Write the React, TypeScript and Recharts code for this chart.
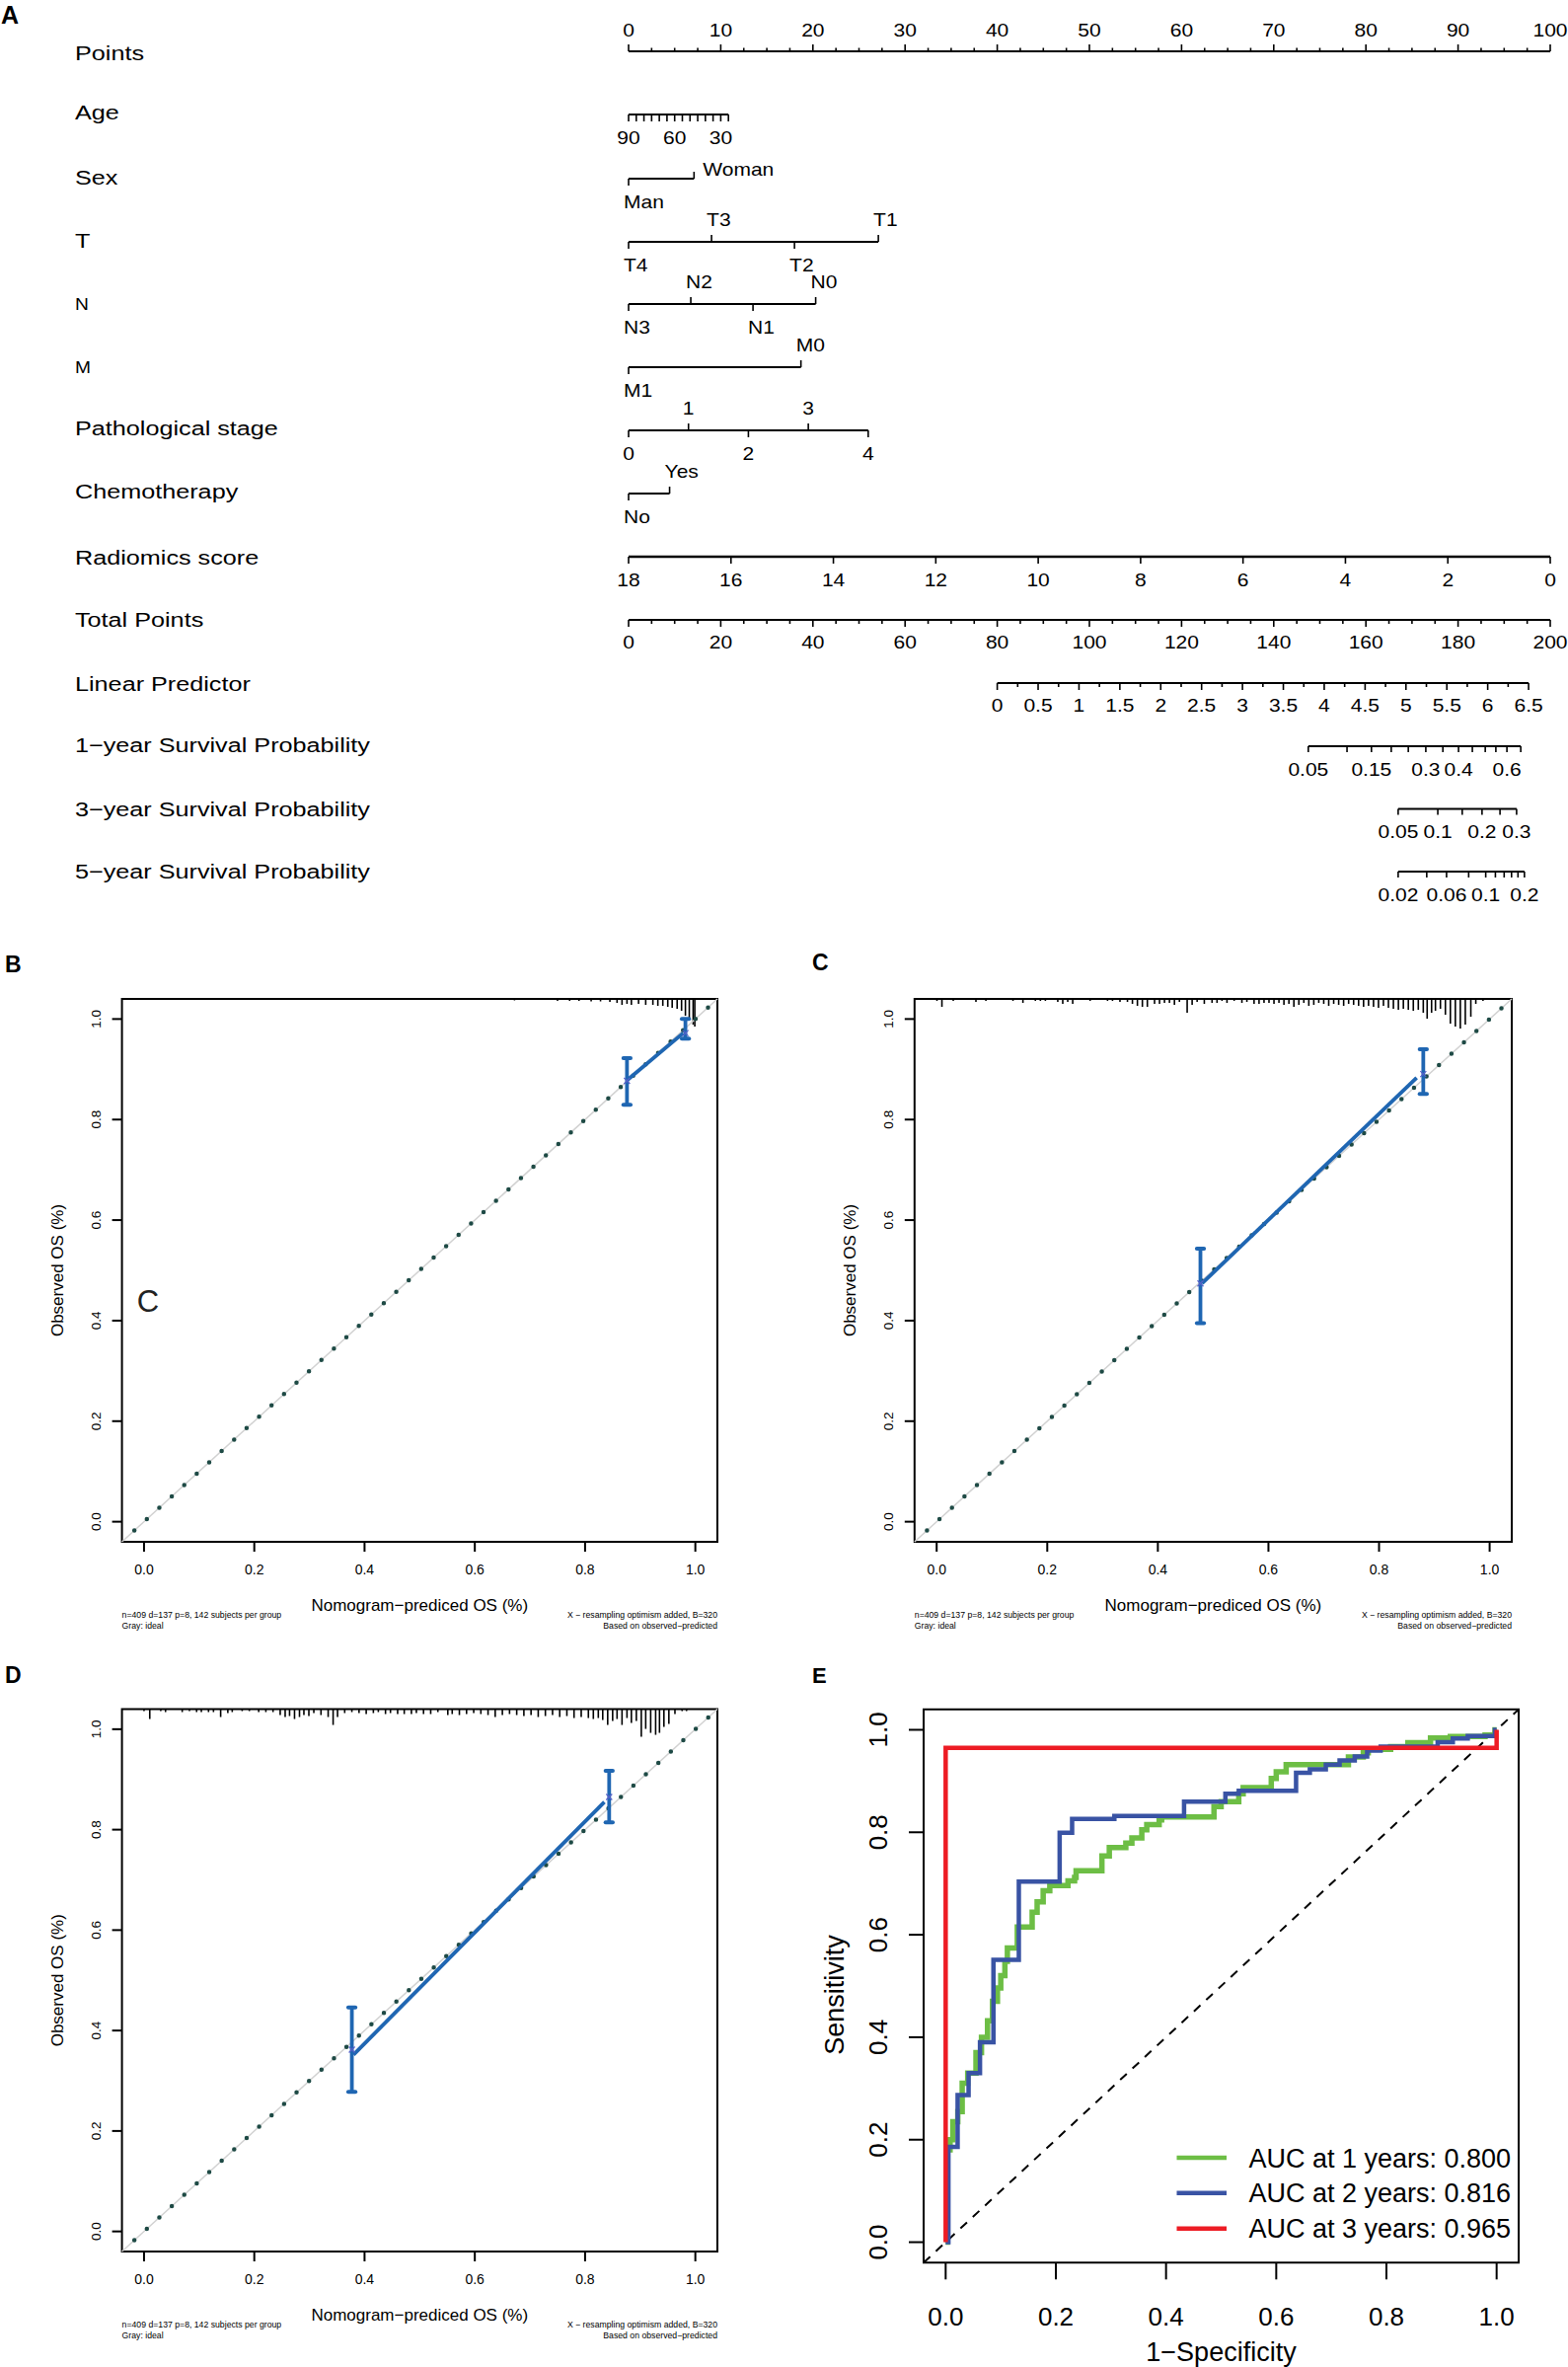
import React from "react";
import {
  ComposedChart,
  Line,
  Scatter,
  XAxis,
  YAxis,
  ReferenceLine,
  ReferenceArea,
} from "recharts";

const FONT = "'Liberation Sans', Arial, Helvetica, sans-serif";
const MINUS = "\u2212";

// ---------------- Panel A: nomogram data ----------------
const ROW_NAMES = [
  "Points",
  "Age",
  "Sex",
  "T",
  "N",
  "M",
  "Pathological stage",
  "Chemotherapy",
  "Radiomics score",
  "Total Points",
  "Linear Predictor",
  `1${MINUS}year Survival Probability`,
  `3${MINUS}year Survival Probability`,
  `5${MINUS}year Survival Probability`,
];

const AGE_TICKS = [90, 85, 80, 75, 70, 65, 60, 55, 50, 45, 40, 35, 30, 25];
const AGE_LABELS = [90, 60, 30];
const AGE_POINTS_AT_30 = 10; // age 90 -> 0 points, age 30 -> 10 points

const SEX_LEVELS = ["Man", "Woman"];
const SEX_POINTS = [0, 7.1];
const T_LEVELS = ["T4", "T3", "T2", "T1"];
const T_POINTS = [0, 9, 18, 27.1];
const N_LEVELS = ["N3", "N2", "N1", "N0"];
const N_POINTS = [0, 6.75, 13.5, 20.3];
const M_LEVELS = ["M1", "M0"];
const M_POINTS = [0, 18.7];
const STAGE_LEVELS = [0, 1, 2, 3, 4];
const STAGE_POINTS = [0, 6.5, 13, 19.5, 26];
const CHEMO_LEVELS = ["No", "Yes"];
const CHEMO_POINTS = [0, 4.45];
const RADIOMICS_TICKS = [18, 16, 14, 12, 10, 8, 6, 4, 2, 0];

const LP_TOTAL_AT_0 = 80;
const LP_TOTAL_AT_MAX = 195.3;
const LP_MAX = 6.5;

const SURV1_VALUES = [0.05, 0.1, 0.15, 0.2, 0.25, 0.3, 0.35, 0.4, 0.45, 0.5, 0.55, 0.6, 0.65];
const SURV1_TOTAL = [147.5, 155.9, 161.2, 165.5, 169.2, 173.0, 176.7, 180.1, 183.1, 185.9, 188.2, 190.6, 193.6];
const SURV1_SHOWN = [0.05, 0.15, 0.3, 0.4, 0.6];
const SURV3_VALUES = [0.05, 0.1, 0.15, 0.2, 0.25, 0.3];
const SURV3_TOTAL = [167.0, 175.6, 180.9, 185.2, 189.1, 192.7];
const SURV3_SHOWN = [0.05, 0.1, 0.2, 0.3];
const SURV5_VALUES = [0.02, 0.04, 0.06, 0.08, 0.1, 0.12, 0.14, 0.16, 0.18, 0.2];
const SURV5_TOTAL = [167.0, 173.2, 177.5, 182.3, 186.0, 188.1, 190.0, 191.6, 193.0, 194.4];
const SURV5_SHOWN = [0.02, 0.06, 0.1, 0.2];

// ---------------- Panels B-D: calibration data ----------------
const B_BAR_X = [0.876, 0.982];
const B_BAR_Y = [0.877, 0.972];
const B_BAR_LO = [0.8295, 0.961];
const B_BAR_HI = [0.922, 1.0];
const B_CURVE_X = [0.877, 0.978];
const B_CURVE_Y = [0.879, 0.972];
const B_RUG_X = [0.0, 0.173, 0.312, 0.442, 0.503, 0.59, 0.672, 0.75, 0.772, 0.789, 0.811, 0.828, 0.845, 0.858, 0.867, 0.876, 0.884, 0.897, 0.91, 0.923, 0.932, 0.941, 0.95, 0.958, 0.967, 0.975, 0.982, 0.989, 0.996, 0.999];
const B_RUG_H = [1, 1, 1, 1, 1, 1, 1.5, 2, 2, 2, 2.5, 2.5, 3, 4, 6, 5, 6, 5, 6, 6, 7, 7, 8, 9, 10, 12, 17, 20, 26, 28];

const C_BAR_X = [0.477, 0.88];
const C_BAR_Y = [0.474, 0.8905];
const C_BAR_LO = [0.395, 0.851];
const C_BAR_HI = [0.543, 0.94];
const C_CURVE_X = [0.48, 0.868];
const C_CURVE_Y = [0.474, 0.883];
const C_RUG_X = [0.0005, 0.0095, 0.03, 0.071, 0.089, 0.138, 0.156, 0.1785, 0.1876, 0.1966, 0.219, 0.228, 0.237, 0.246, 0.2775, 0.309, 0.318, 0.3315, 0.345, 0.354, 0.363, 0.372, 0.381, 0.394, 0.403, 0.412, 0.421, 0.43, 0.439, 0.453, 0.462, 0.471, 0.484, 0.498, 0.507, 0.516, 0.525, 0.538, 0.552, 0.561, 0.574, 0.583, 0.592, 0.601, 0.61, 0.619, 0.628, 0.637, 0.646, 0.655, 0.664, 0.673, 0.682, 0.691, 0.7, 0.709, 0.718, 0.727, 0.736, 0.745, 0.754, 0.763, 0.772, 0.781, 0.79, 0.799, 0.808, 0.817, 0.826, 0.835, 0.844, 0.853, 0.862, 0.871, 0.88, 0.887, 0.895, 0.902, 0.911, 0.92, 0.929, 0.938, 0.947, 0.956, 0.966, 0.975, 0.988];
const C_RUG_H = [2, 8, 2, 3, 2, 2, 4, 2, 2, 2, 3, 5, 3, 5, 2, 2, 2, 3, 3, 5, 7, 8, 8, 5, 5, 4, 4, 6, 3, 14, 6, 3, 5, 4, 4, 2, 4, 2, 4, 3, 5, 5, 4, 4, 5, 4, 6, 5, 8, 6, 4, 7, 6, 4, 5, 7, 5, 6, 7, 5, 6, 7, 8, 7, 8, 9, 7, 9, 10, 11, 10, 11, 12, 11, 14, 20, 14, 12, 10, 16, 25, 28, 30, 26, 18, 5, 2];

const D_BAR_X = [0.377, 0.8437];
const D_BAR_Y = [0.362, 0.865];
const D_BAR_LO = [0.278, 0.8146];
const D_BAR_HI = [0.446, 0.917];
const D_CURVE_X = [0.38, 0.835];
const D_CURVE_Y = [0.352, 0.855];
const D_RUG_X = [0.0, 0.0104, 0.0303, 0.039, 0.0693, 0.0824, 0.0954, 0.104, 0.117, 0.126, 0.139, 0.152, 0.16, 0.178, 0.191, 0.208, 0.221, 0.234, 0.247, 0.256, 0.264, 0.273, 0.282, 0.29, 0.299, 0.308, 0.321, 0.334, 0.343, 0.351, 0.364, 0.377, 0.39, 0.403, 0.416, 0.425, 0.438, 0.447, 0.46, 0.472, 0.485, 0.494, 0.507, 0.52, 0.533, 0.551, 0.559, 0.572, 0.585, 0.598, 0.611, 0.624, 0.637, 0.65, 0.663, 0.676, 0.689, 0.702, 0.715, 0.728, 0.741, 0.754, 0.767, 0.78, 0.793, 0.806, 0.815, 0.824, 0.832, 0.841, 0.85, 0.858, 0.867, 0.876, 0.884, 0.893, 0.902, 0.91, 0.919, 0.928, 0.935, 0.943, 0.952, 0.963, 0.976, 0.984];
const D_RUG_H = [2, 10, 2, 3, 3, 2, 3, 3, 3, 3, 8, 4, 3, 2, 2, 3, 3, 3, 6, 8, 7, 10, 8, 6, 7, 4, 6, 8, 16, 8, 4, 3, 4, 5, 4, 3, 5, 4, 5, 5, 5, 4, 5, 5, 3, 6, 5, 6, 5, 4, 5, 6, 8, 6, 5, 6, 7, 6, 8, 7, 6, 8, 7, 9, 8, 9, 10, 9, 11, 16, 12, 10, 16, 9, 14, 12, 28, 20, 24, 26, 24, 18, 15, 5, 2, 2];

const CAL_FOOT_LEFT = ["n=409 d=137 p=8, 142 subjects per group", "Gray: ideal"];
const CAL_FOOT_RIGHT = [`X ${MINUS} resampling optimism added, B=320`, `Based on observed${MINUS}predicted`];

// ---------------- Panel E: ROC data ----------------
const ROC_NAMES = ["AUC at 1 years: 0.800", "AUC at 2 years: 0.816", "AUC at 3 years: 0.965"];
const ROC_COLORS = ["#6dbe45", "#3953a4", "#ed1c24"];
const ROC1_FPR = [0, 0.003, 0.008, 0.013, 0.022, 0.03, 0.04, 0.055, 0.065, 0.076, 0.085, 0.094, 0.1, 0.1075, 0.112, 0.13, 0.157, 0.166, 0.177, 0.189, 0.222, 0.234, 0.2367, 0.2836, 0.297, 0.327, 0.338, 0.356, 0.365, 0.3875, 0.392, 0.487, 0.5, 0.532, 0.54, 0.591, 0.6, 0.618, 0.731, 0.758, 0.767, 0.8076, 0.839, 0.88, 0.916, 0.979, 0.997, 1.0];
const ROC1_TPR = [0, 0.18, 0.2, 0.235, 0.255, 0.31, 0.33, 0.37, 0.4, 0.432, 0.47, 0.496, 0.52, 0.548, 0.574, 0.615, 0.644, 0.664, 0.686, 0.696, 0.705, 0.712, 0.725, 0.754, 0.77, 0.779, 0.789, 0.805, 0.815, 0.824, 0.83, 0.85, 0.86, 0.875, 0.887, 0.905, 0.918, 0.932, 0.947, 0.955, 0.962, 0.967, 0.975, 0.984, 0.987, 0.99, 1.0, 1.0];
const ROC2_FPR = [0, 0.005, 0.0217, 0.0416, 0.0623, 0.0867, 0.1328, 0.2069, 0.2295, 0.3062, 0.4327, 0.5077, 0.532, 0.636, 0.661, 0.69, 0.715, 0.7425, 0.765, 0.7895, 0.893, 0.9205, 0.9476, 0.997, 1.0];
const ROC2_TPR = [0, 0.186, 0.287, 0.33, 0.39, 0.551, 0.7035, 0.799, 0.826, 0.832, 0.86, 0.875, 0.881, 0.916, 0.923, 0.932, 0.94, 0.948, 0.9595, 0.967, 0.976, 0.983, 0.988, 1.0, 1.0];
const ROC3_FPR = [0, 0, 1];
const ROC3_TPR = [0, 0.965, 1];

// ---------------- layout ----------------
const SX = 1.2; // the nomogram lettering is horizontally wide
const ROW_NAME_X = 76;
const ROW_NAME_Y = [53, 113.5, 179, 243.5, 308.5, 372, 433.5, 497.5, 564, 627.5, 692.5, 754.5, 819, 882];
const ROW_LINE_Y = [52, 116, 181, 245, 308, 372, 436, 500, 564, 628, 692, 756, 819.5, 883];
const ROW_NAME_SIZE = [21, 21, 21, 21, 16, 16, 21, 21, 21, 21, 21, 21, 21, 21];
const TICK_LEN = 7;
const ABOVE = -22.5;
const BELOW = 23.5;
const CAT_DX = -5;
const LABEL_NUDGE: Record<string, { dx: number; dy: number }> = { Woman: { dx: 9, dy: -9.5 } };

const CAL_DOMAIN: [number, number] = [-0.04, 1.04];
const UNIT_TICKS = [0, 0.2, 0.4, 0.6, 0.8, 1.0];
const RUG_UNIT = 1 / 508;
const CAP_HALF = 0.0065; // half width of an error-bar cap, in axis units
const CAL_BLUE = "#1f66b2";

type NTick = { x: number; y: number; len: number; label?: string; ldy?: number; dx?: number; anchor?: "start" | "middle" };
type NRow = { from: number; to: number; ticks: NTick[] };

function WText({ x, y, size, anchor = "start", children }: { x: number; y: number; size: number; anchor?: string; children: React.ReactNode }) {
  return (
    <text
      transform={`translate(${x},${y}) scale(${SX},1)`}
      x={0}
      y={0}
      dy="0.36em"
      textAnchor={anchor}
      fontSize={size}
      fontFamily={FONT}
      fill="#000"
    >
      {children}
    </text>
  );
}

function catRow(r: number, levels: (string | number)[], pts: number[], numeric = false): NRow {
  const y = ROW_LINE_Y[r];
  const ticks: NTick[] = levels.map((lv, i) => {
    const down = i % 2 === 0;
    const nudge = LABEL_NUDGE[String(lv)];
    return {
      x: pts[i],
      y,
      len: down ? TICK_LEN : -TICK_LEN,
      label: String(lv),
      ldy: nudge ? nudge.dy : down ? BELOW : ABOVE,
      dx: numeric ? 0 : nudge ? nudge.dx : CAT_DX,
      anchor: numeric ? "middle" : "start",
    };
  });
  return { from: Math.min(...pts), to: Math.max(...pts), ticks };
}

function survRow(r: number, values: number[], totals: number[], shown: number[]): NRow {
  const y = ROW_LINE_Y[r];
  const ticks = values.map((v, i) => ({
    x: totals[i] / 2,
    y,
    len: 6,
    label: shown.includes(v) ? String(v) : undefined,
    ldy: BELOW,
    anchor: "middle" as const,
  }));
  return { from: totals[0] / 2, to: totals[totals.length - 1] / 2, ticks };
}

function buildRows(): NRow[] {
  const rows: NRow[] = [];
  // Points
  const pTicks: NTick[] = [];
  for (let k = 0; k <= 40; k++) {
    const p = k * 2.5;
    const major = k % 4 === 0;
    pTicks.push({ x: p, y: ROW_LINE_Y[0], len: major ? -7 : -3.5, label: major ? String(p) : undefined, ldy: -21, anchor: "middle" });
  }
  rows.push({ from: 0, to: 100, ticks: pTicks });
  // Age
  const agePts = (a: number) => ((90 - a) / 60) * AGE_POINTS_AT_30;
  rows.push({
    from: agePts(AGE_TICKS[0]),
    to: agePts(AGE_TICKS[AGE_TICKS.length - 1]),
    ticks: AGE_TICKS.map((a) => ({
      x: agePts(a),
      y: ROW_LINE_Y[1],
      len: TICK_LEN,
      label: AGE_LABELS.includes(a) ? String(a) : undefined,
      ldy: 24,
      anchor: "middle" as const,
    })),
  });
  rows.push(catRow(2, SEX_LEVELS, SEX_POINTS));
  rows.push(catRow(3, T_LEVELS, T_POINTS));
  rows.push(catRow(4, N_LEVELS, N_POINTS));
  rows.push(catRow(5, M_LEVELS, M_POINTS));
  rows.push(catRow(6, STAGE_LEVELS, STAGE_POINTS, true));
  rows.push(catRow(7, CHEMO_LEVELS, CHEMO_POINTS));
  // Radiomics score
  rows.push({
    from: 0,
    to: 100,
    ticks: RADIOMICS_TICKS.map((v) => ({
      x: ((18 - v) / 18) * 100,
      y: ROW_LINE_Y[8],
      len: TICK_LEN,
      label: String(v),
      ldy: BELOW,
      anchor: "middle" as const,
    })),
  });
  // Total points
  const tTicks: NTick[] = [];
  for (let k = 0; k <= 40; k++) {
    const tp = k * 5;
    const major = k % 4 === 0;
    tTicks.push({ x: tp / 2, y: ROW_LINE_Y[9], len: major ? 7 : 4, label: major ? String(tp) : undefined, ldy: 23, anchor: "middle" });
  }
  rows.push({ from: 0, to: 100, ticks: tTicks });
  // Linear predictor
  const lpPts = (lp: number) => (LP_TOTAL_AT_0 + (lp * (LP_TOTAL_AT_MAX - LP_TOTAL_AT_0)) / LP_MAX) / 2;
  const lTicks: NTick[] = [];
  for (let k = 0; k <= 26; k++) {
    const lp = k * 0.25;
    const major = k % 2 === 0;
    lTicks.push({ x: lpPts(lp), y: ROW_LINE_Y[10], len: major ? 7 : 4, label: major ? String(lp) : undefined, ldy: 23, anchor: "middle" });
  }
  rows.push({ from: lpPts(0), to: lpPts(LP_MAX), ticks: lTicks });
  rows.push(survRow(11, SURV1_VALUES, SURV1_TOTAL, SURV1_SHOWN));
  rows.push(survRow(12, SURV3_VALUES, SURV3_TOTAL, SURV3_SHOWN));
  rows.push(survRow(13, SURV5_VALUES, SURV5_TOTAL, SURV5_SHOWN));
  return rows;
}

function NomoTick(props: any) {
  const { cx, cy, payload } = props;
  if (cx == null || cy == null || !payload) return null;
  const t = payload as NTick;
  return (
    <g>
      <line x1={cx} x2={cx} y1={cy} y2={cy + t.len} stroke="#000" strokeWidth={1.6} />
      {t.label !== undefined && (
        <WText x={cx + (t.dx ?? 0)} y={cy + (t.ldy ?? 0)} size={17.5} anchor={t.anchor ?? "middle"}>
          {t.label}
        </WText>
      )}
    </g>
  );
}

function Nomogram() {
  const rows = buildRows();
  const H = 940;
  return (
    <div style={{ position: "absolute", left: 0, top: 0 }}>
      <ComposedChart width={1589} height={H} margin={{ top: 0, right: 18, bottom: 0, left: 0 }} style={{ overflow: "visible" }}>
        <XAxis type="number" dataKey="x" domain={[0, 100]} hide />
        <YAxis
          type="number"
          dataKey="y"
          domain={[0, H]}
          reversed
          width={637}
          ticks={ROW_NAME_Y}
          interval={0}
          axisLine={false}
          tickLine={false}
          tick={(p: any) => (
            <WText x={ROW_NAME_X} y={p.y} size={ROW_NAME_SIZE[p.index] ?? 21}>
              {ROW_NAMES[p.index]}
            </WText>
          )}
        />
        {rows.map((row, i) => (
          <ReferenceLine
            key={`l${i}`}
            segment={[
              { x: row.from, y: ROW_LINE_Y[i] },
              { x: row.to, y: ROW_LINE_Y[i] },
            ]}
            stroke="#000"
            strokeWidth={i === 8 ? 2.5 : 2}
            ifOverflow="visible"
          />
        ))}
        {rows.map((row, i) => (
          <Scatter key={`s${i}`} data={row.ticks} shape={(p: any) => <NomoTick {...p} />} isAnimationActive={false} />
        ))}
        <text x={1} y={24} fontSize={25} fontWeight="bold" fontFamily={FONT} fill="#000">
          A
        </text>
      </ComposedChart>
    </div>
  );
}

const rotTick = (size: number) => (props: any) => {
  const { x, y, payload } = props;
  return (
    <text
      x={x}
      y={y}
      transform={`rotate(-90 ${x} ${y})`}
      textAnchor="middle"
      dy="0.36em"
      fontSize={size}
      fontFamily={FONT}
      fill="#000"
    >
      {Number(payload.value).toFixed(1)}
    </text>
  );
};

function BarMark(props: any) {
  const { cx, cy } = props;
  if (cx == null || cy == null) return null;
  const s = 3;
  return (
    <path
      d={`M${cx - s},${cy - s}L${cx + s},${cy + s}M${cx - s},${cy + s}L${cx + s},${cy - s}`}
      stroke="#5561c8"
      strokeWidth={1.3}
    />
  );
}

type CalProps = {
  left: number;
  top: number;
  width: number;
  height: number;
  margin: { top: number; right: number; bottom: number; left: number };
  letter: string;
  letterX: number;
  letterY: number;
  barX: number[];
  barY: number[];
  barLo: number[];
  barHi: number[];
  curveX: number[];
  curveY: number[];
  rugX: number[];
  rugH: number[];
  stray?: { text: string; x: number; y: number };
};

const IDEAL = [
  { x: -0.04, y: -0.04 },
  { x: 1.04, y: 1.04 },
];
const IDEAL_DOTS = [
  { x: -0.0175, y: -0.0175 },
  { x: 1.04, y: 1.04 },
];

function CalPanel(p: CalProps) {
  const bars = p.barX.map((x, i) => ({ x, y: p.barY[i] }));
  const curve = p.curveX.map((x, i) => ({ x, y: p.curveY[i] }));
  const boxL = p.margin.left + 60;
  const boxR = p.width - p.margin.right;
  const boxT = p.margin.top;
  const boxB = p.height - p.margin.bottom - 45;
  const cx = (boxL + boxR) / 2;
  const cy = (boxT + boxB) / 2;
  return (
    <div style={{ position: "absolute", left: p.left, top: p.top }}>
      <ComposedChart width={p.width} height={p.height} margin={p.margin}>
        <XAxis
          type="number"
          dataKey="x"
          domain={CAL_DOMAIN}
          ticks={UNIT_TICKS}
          interval={0}
          height={45}
          axisLine={false}
          tickSize={10}
          tickMargin={13}
          tickLine={{ stroke: "#000", strokeWidth: 2 }}
          tick={{ fontSize: 14, fill: "#000", fontFamily: FONT }}
          tickFormatter={(v: number) => v.toFixed(1)}
        />
        <YAxis
          type="number"
          dataKey="y"
          domain={CAL_DOMAIN}
          ticks={UNIT_TICKS}
          interval={0}
          width={60}
          axisLine={false}
          tickSize={10}
          tickMargin={16.6}
          tickLine={{ stroke: "#000", strokeWidth: 2 }}
          tick={rotTick(13.5)}
        />
        <ReferenceArea x1={-0.04} x2={1.04} y1={-0.04} y2={1.04} fill="none" stroke="#000" strokeWidth={2} ifOverflow="visible" />
        {p.rugX.map((x, i) => (
          <ReferenceLine
            key={`r${i}`}
            segment={[
              { x, y: 1.04 },
              { x, y: 1.04 - p.rugH[i] * RUG_UNIT },
            ]}
            stroke="#000"
            strokeWidth={1.6}
            ifOverflow="visible"
          />
        ))}
        <Line data={IDEAL} dataKey="y" stroke="#d2d2d2" strokeWidth={1.5} dot={false} activeDot={false} isAnimationActive={false} />
        <Line
          data={IDEAL_DOTS}
          dataKey="y"
          stroke="#1e4a45"
          strokeWidth={4.5}
          strokeDasharray="0 17.1"
          strokeLinecap="round"
          dot={false}
          activeDot={false}
          isAnimationActive={false}
        />
        <Line data={curve} dataKey="y" stroke={CAL_BLUE} strokeWidth={3.8} dot={false} activeDot={false} isAnimationActive={false} />
        {p.barX.map((x, i) => (
          <ReferenceLine
            key={`ev${i}`}
            segment={[
              { x, y: p.barLo[i] },
              { x, y: p.barHi[i] },
            ]}
            stroke={CAL_BLUE}
            strokeWidth={3.8}
            ifOverflow="visible"
          />
        ))}
        {p.barX.flatMap((x, i) =>
          [p.barLo[i], p.barHi[i]].map((yv, j) => (
            <ReferenceLine
              key={`ec${i}-${j}`}
              segment={[
                { x: x - CAP_HALF, y: yv },
                { x: x + CAP_HALF, y: yv },
              ]}
              stroke={CAL_BLUE}
              strokeWidth={4}
              strokeLinecap="round"
              ifOverflow="visible"
            />
          ))
        )}
        <Scatter data={bars} dataKey="y" shape={(sp: any) => <BarMark {...sp} />} isAnimationActive={false} />
        <text x={p.letterX} y={p.letterY} fontSize={23} fontWeight="bold" fontFamily={FONT} fill="#000">
          {p.letter}
        </text>
        <text
          x={boxL - 65.6}
          y={cy}
          transform={`rotate(-90 ${boxL - 65.6} ${cy})`}
          textAnchor="middle"
          dy="0.36em"
          fontSize={17}
          fontFamily={FONT}
          fill="#000"
        >
          Observed OS (%)
        </text>
        <text x={cx} y={boxB + 63.5} textAnchor="middle" dy="0.36em" fontSize={17} fontFamily={FONT} fill="#000">
          {`Nomogram${MINUS}prediced OS (%)`}
        </text>
        {CAL_FOOT_LEFT.map((t, i) => (
          <text key={`fl${i}`} x={boxL} y={boxB + 74 + i * 11} dy="0.36em" fontSize={8.7} fontFamily={FONT} fill="#000">
            {t}
          </text>
        ))}
        {CAL_FOOT_RIGHT.map((t, i) => (
          <text key={`fr${i}`} x={boxR} y={boxB + 74 + i * 11} dy="0.36em" textAnchor="end" fontSize={8.7} fontFamily={FONT} fill="#000">
            {t}
          </text>
        ))}
        {p.stray && (
          <text x={p.stray.x} y={p.stray.y} textAnchor="middle" dy="0.36em" fontSize={31} fontFamily={FONT} fill="#222">
            {p.stray.text}
          </text>
        )}
      </ComposedChart>
    </div>
  );
}

const ROC_DIAG = [
  { x: -0.04, y: -0.04 },
  { x: 1.04, y: 1.04 },
];

function RocPanel() {
  const W = 789;
  const H = 718;
  const margin = { top: 51.7, right: 50, bottom: 45.7, left: 46 };
  const series = [
    ROC1_FPR.map((x, i) => ({ x, y: ROC1_TPR[i] })),
    ROC2_FPR.map((x, i) => ({ x, y: ROC2_TPR[i] })),
    ROC3_FPR.map((x, i) => ({ x, y: ROC3_TPR[i] })),
  ];
  const widths = [5.5, 4.5, 4.5];
  const boxL = margin.left + 90;
  const boxR = W - margin.right;
  const legendY = [506, 541.7, 577.7];
  return (
    <div style={{ position: "absolute", left: 800, top: 1680 }}>
      <ComposedChart width={W} height={H} margin={margin}>
        <XAxis
          type="number"
          dataKey="x"
          domain={CAL_DOMAIN}
          ticks={UNIT_TICKS}
          interval={0}
          height={60}
          axisLine={false}
          tickSize={17}
          tickMargin={28.4}
          tickLine={{ stroke: "#000", strokeWidth: 2 }}
          tick={{ fontSize: 26, fill: "#000", fontFamily: FONT }}
          tickFormatter={(v: number) => v.toFixed(1)}
        />
        <YAxis
          type="number"
          dataKey="y"
          domain={CAL_DOMAIN}
          ticks={UNIT_TICKS}
          interval={0}
          width={90}
          axisLine={false}
          tickSize={15}
          tickMargin={31.4}
          tickLine={{ stroke: "#000", strokeWidth: 2 }}
          tick={rotTick(26)}
        />
        <ReferenceArea x1={-0.04} x2={1.04} y1={-0.04} y2={1.04} fill="none" stroke="#000" strokeWidth={2} ifOverflow="visible" />
        <Line data={ROC_DIAG} dataKey="y" stroke="#000" strokeWidth={2} strokeDasharray="9 8" dot={false} activeDot={false} isAnimationActive={false} />
        {series.map((d, i) => (
          <Line
            key={`roc${i}`}
            data={d}
            dataKey="y"
            type="stepAfter"
            stroke={ROC_COLORS[i]}
            strokeWidth={widths[i]}
            dot={false}
            activeDot={false}
            isAnimationActive={false}
          />
        ))}
        {ROC_NAMES.map((name, i) => (
          <g key={`lg${i}`}>
            <line x1={392.5} x2={443} y1={legendY[i]} y2={legendY[i]} stroke={ROC_COLORS[i]} strokeWidth={4.5} />
            <text x={465.5} y={legendY[i]} dy="0.36em" fontSize={27} fontFamily={FONT} fill="#000">
              {name}
            </text>
          </g>
        ))}
        <text x={23} y={25} fontSize={22} fontWeight="bold" fontFamily={FONT} fill="#000">
          E
        </text>
        <text x={45} y={341} transform={`rotate(-90 45 341)`} textAnchor="middle" dy="0.36em" fontSize={27} fontFamily={FONT} fill="#000">
          Sensitivity
        </text>
        <text x={(boxL + boxR) / 2} y={702} textAnchor="middle" dy="0.36em" fontSize={27} fontFamily={FONT} fill="#000">
          {`1${MINUS}Specificity`}
        </text>
      </ComposedChart>
    </div>
  );
}

export default function App() {
  return (
    <div
      style={{
        position: "absolute",
        left: 0,
        top: 0,
        width: 1589,
        height: 2398,
        background: "#fff",
        overflow: "hidden",
        fontFamily: FONT,
      }}
    >
      <Nomogram />
      <CalPanel
        left={0}
        top={960}
        width={760}
        height={710}
        margin={{ top: 52, right: 33, bottom: 63, left: 63.6 }}
        letter="B"
        letterX={5}
        letterY={25}
        barX={B_BAR_X}
        barY={B_BAR_Y}
        barLo={B_BAR_LO}
        barHi={B_BAR_HI}
        curveX={B_CURVE_X}
        curveY={B_CURVE_Y}
        rugX={B_RUG_X}
        rugH={B_RUG_H}
        stray={{ text: "C", x: 150, y: 358 }}
      />
      <CalPanel
        left={800}
        top={960}
        width={789}
        height={710}
        margin={{ top: 52, right: 57, bottom: 63, left: 66.8 }}
        letter="C"
        letterX={23}
        letterY={23}
        barX={C_BAR_X}
        barY={C_BAR_Y}
        barLo={C_BAR_LO}
        barHi={C_BAR_HI}
        curveX={C_CURVE_X}
        curveY={C_CURVE_Y}
        rugX={C_RUG_X}
        rugH={C_RUG_H}
      />
      <CalPanel
        left={0}
        top={1680}
        width={760}
        height={718}
        margin={{ top: 51.5, right: 33, bottom: 72, left: 63.6 }}
        letter="D"
        letterX={5}
        letterY={25}
        barX={D_BAR_X}
        barY={D_BAR_Y}
        barLo={D_BAR_LO}
        barHi={D_BAR_HI}
        curveX={D_CURVE_X}
        curveY={D_CURVE_Y}
        rugX={D_RUG_X}
        rugH={D_RUG_H}
      />
      <RocPanel />
    </div>
  );
}
